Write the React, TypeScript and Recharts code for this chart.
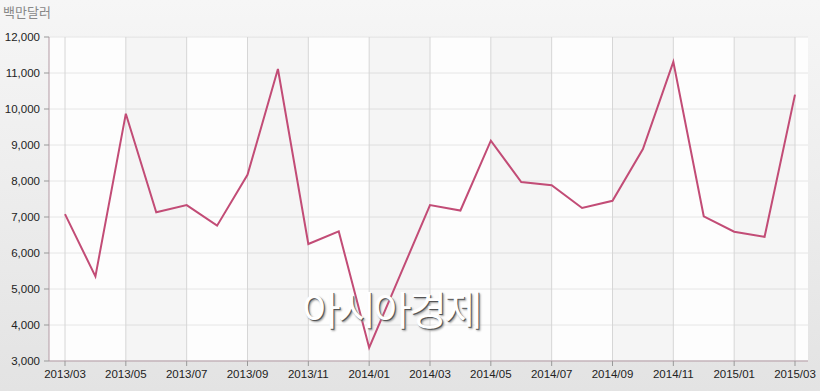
import { LineChart, Line, XAxis, YAxis, CartesianGrid, ReferenceArea, ReferenceLine } from 'recharts';

// monthly values, million USD
const months = [
  '2013/03', '2013/04', '2013/05', '2013/06', '2013/07', '2013/08', '2013/09',
  '2013/10', '2013/11', '2013/12', '2014/01', '2014/02', '2014/03', '2014/04',
  '2014/05', '2014/06', '2014/07', '2014/08', '2014/09', '2014/10', '2014/11',
  '2014/12', '2015/01', '2015/02', '2015/03',
];
const values = [
  7080, 5350, 9870, 7130, 7330, 6760, 8170,
  11110, 6250, 6600, 3370, 5350, 7330, 7180,
  9120, 7970, 7880, 7250, 7450, 8890, 11310,
  7020, 6590, 6450, 10400,
];
const yTicks = [3000, 4000, 5000, 6000, 7000, 8000, 9000, 10000, 11000, 12000];
const unitLabel = '백만달러';
const watermark = '아시아경제';

const labelMonths = months.filter((_, i) => i % 2 === 0);
const shadedBands = [
  ['2013/05', '2013/07'],
  ['2013/09', '2013/11'],
  ['2014/01', '2014/03'],
  ['2014/05', '2014/07'],
  ['2014/09', '2014/11'],
  ['2015/01', '2015/03'],
];

const data = months.map((month, i) => ({ month, value: values[i] }));

const axisColor = '#b39aa4';
const tickFont = { fontSize: 11.5, fill: '#222', fontFamily: '"Liberation Sans", Arial, sans-serif' };

export default function App() {
  return (
    <div
      style={{
        position: 'absolute',
        left: 0,
        top: 0,
        width: 820,
        height: 391,
        background: 'linear-gradient(#f6f6f6, #e3e3e3)',
        overflow: 'hidden',
      }}
    >
      <div
        style={{
          position: 'absolute',
          left: 3,
          top: 2,
          fontSize: 13,
          color: '#888',
          fontFamily: '"Noto Sans CJK KR", sans-serif',
        }}
      >
        {unitLabel}
      </div>
      <LineChart width={820} height={391} data={data} margin={{ top: 37, right: 12, bottom: 0, left: 0 }}>
        <CartesianGrid fill="#fdfdfd" stroke="#e6e6e6" vertical={false} />
        {shadedBands.map(([a, b]) => (
          <ReferenceArea key={a} x1={a} x2={b} fill="#000" fillOpacity={0.03} stroke="none" />
        ))}
        {labelMonths.map((m) => (
          <ReferenceLine key={m} x={m} stroke="#d6d6d6" strokeWidth={1} />
        ))}
        <XAxis
          dataKey="month"
          interval={1}
          height={30}
          padding={{ left: 16, right: 13 }}
          tick={tickFont}
          tickSize={5}
          tickMargin={4}
          stroke={axisColor}
          tickLine={{ stroke: '#999' }}
        />
        <YAxis
          width={49}
          domain={[3000, 12000]}
          ticks={yTicks}
          tickFormatter={(v: number) => v.toLocaleString('en-US')}
          tick={tickFont}
          tickSize={5}
          tickMargin={4}
          stroke={axisColor}
          tickLine={{ stroke: '#999' }}
        />
        <Line
          type="linear"
          dataKey="value"
          stroke="#c24c76"
          strokeWidth={2}
          dot={false}
          isAnimationActive={false}
        />
      </LineChart>
      <div
        style={{
          position: 'absolute',
          left: 302,
          top: 288,
          fontSize: 40,
          lineHeight: 1,
          color: '#fff',
          letterSpacing: -3,
          transform: 'scaleX(1.05)',
          transformOrigin: 'left top',
          fontFamily: '"Noto Sans CJK KR", sans-serif',
          textShadow: '1px 1px 0 #555, 2px 2px 2px #999',
        }}
      >
        {watermark}
      </div>
    </div>
  );
}
